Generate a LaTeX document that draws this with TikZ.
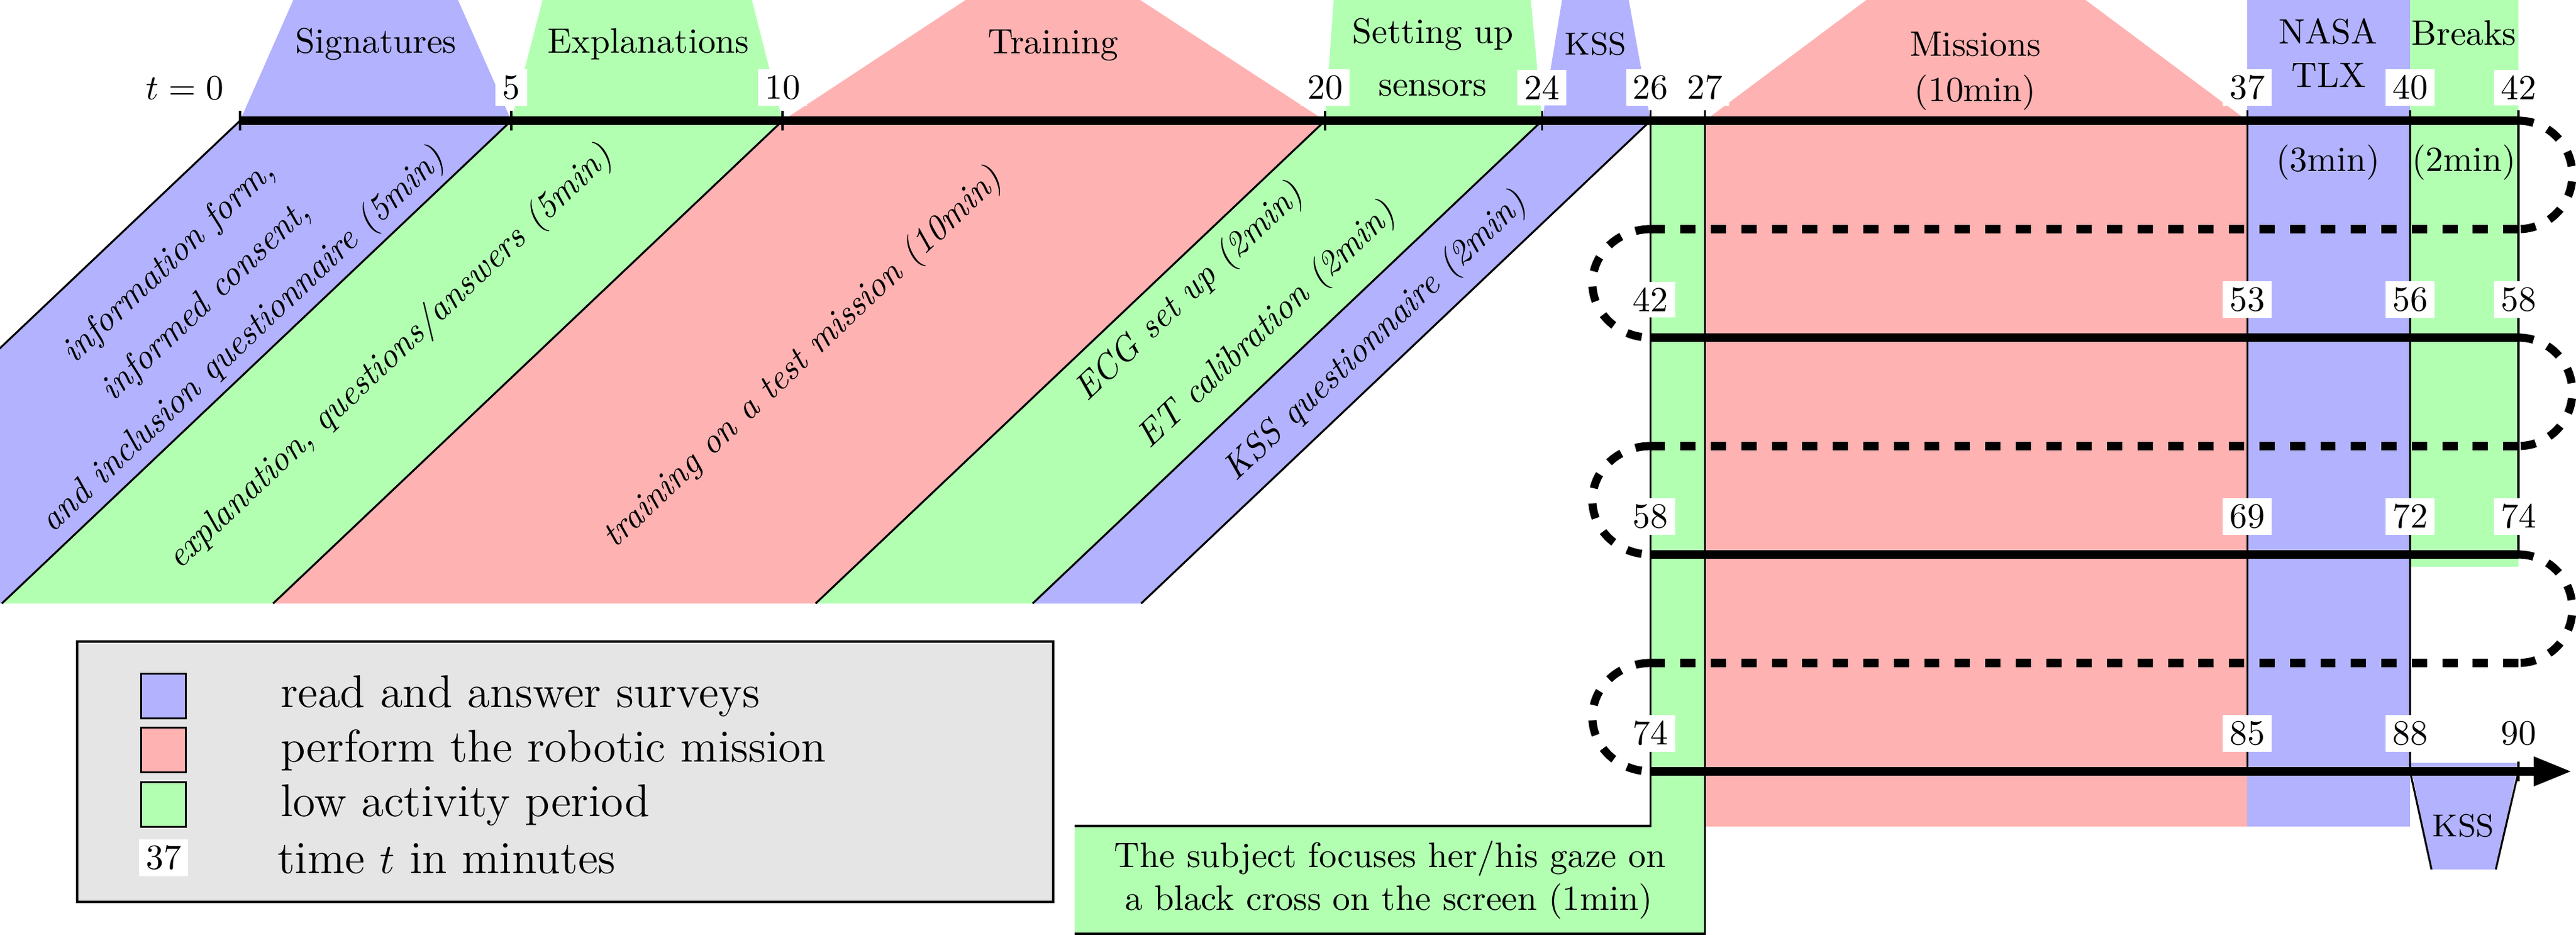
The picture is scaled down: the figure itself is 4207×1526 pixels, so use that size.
\documentclass[tikz,border=0pt]{standalone}
\usetikzlibrary{arrows.meta}
\definecolor{cblue}{rgb}{0.7,0.7,1}
\definecolor{cred}{rgb}{1,0.7,0.7}
\definecolor{cgreen}{rgb}{0.7,1,0.7}
\definecolor{cgray}{rgb}{0.9,0.9,0.9}
\begin{document}
\begin{tikzpicture}[x=0.1736pt,y=-0.1736pt,
  lab/.style={font=\fontsize{10}{12}\selectfont, inner sep=0pt, anchor=base},
  kss/.style={font=\fontsize{9}{11}\selectfont, inner sep=0pt, anchor=base},
  rot/.style={font=\fontsize{10}{15.3}\selectfont\itshape, inner sep=0pt, rotate=43.45, align=center},
  num/.style={font=\fontsize{10}{12}\selectfont, fill=white, inner xsep=1.94pt, inner ysep=1.73pt},
  leg/.style={font=\fontsize{13}{16}\selectfont, inner sep=0pt, anchor=base west},
  thinl/.style={line width=0.55pt},
  tl/.style={line width=2.3pt},
  dloop/.style={line width=2.3pt, dash pattern=on 4.32pt off 4.32pt},
  sq/.style={draw, line width=0.55pt, minimum width=12.8pt, minimum height=12.7pt, inner sep=0pt}
]
\useasboundingbox (0,0) rectangle (4207,1526);
\clip (0,0) rectangle (4207,1526);

% ---------- fills ----------
% slanted bands below the first timeline
\fill[cblue]  (392,197) -- (835,197) -- (3,985) -- (-440,985) -- cycle;
\fill[cgreen] (835,197) -- (1278,197) -- (446,985) -- (3,985) -- cycle;
\fill[cred]   (1278,197) -- (2164,197) -- (1332,985) -- (446,985) -- cycle;
\fill[cgreen] (2164,197) -- (2518.4,197) -- (1686.4,985) -- (1332,985) -- cycle;
\fill[cblue]  (2518.4,197) -- (2695.6,197) -- (1863.6,985) -- (1686.4,985) -- cycle;
% trapezoids above the first timeline
\fill[cblue]  (392,197) -- (479,0) -- (748,0) -- (835,197) -- cycle;
\fill[cgreen] (835,197) -- (886,0) -- (1228,0) -- (1278,197) -- cycle;
\fill[cred]   (1278,197) -- (1577,0) -- (1862,0) -- (2164,197) -- cycle;
\fill[cgreen] (2164,197) -- (2178,0) -- (2500,0) -- (2518.4,197) -- cycle;
\fill[cblue]  (2518.4,197) -- (2551,0) -- (2660,0) -- (2695.6,197) -- cycle;
% vertical strips
\fill[cred]   (2784.2,197) -- (3048,0) -- (3406,0) -- (3670.2,197) -- (3670.2,1349) -- (2784.2,1349) -- cycle;
\fill[cblue]  (3670.2,0) rectangle (3936,1349);
\fill[cgreen] (3936,0) rectangle (4113,925);
\fill[cgreen] (2695.6,197) -- (2784.2,197) -- (2784.2,1524) -- (1755,1524) -- (1755,1348) -- (2695.6,1348) -- cycle;
% final KSS
\fill[cblue]  (3936,1245) -- (4113,1245) -- (4076,1419) -- (3971,1419) -- cycle;

% ---------- thin lines ----------
\draw[thinl] (392,197) -- (-440,985);
\draw[thinl] (835,197) -- (3,985);
\draw[thinl] (1278,197) -- (446,985);
\draw[thinl] (2164,197) -- (1332,985);
\draw[thinl] (2518.4,197) -- (1686.4,985);
\draw[thinl] (2695.6,197) -- (1863.6,985);
\foreach \x in {392,835,1278,2164,2518.4} \draw[thinl] (\x,181) -- (\x,213);
\draw[thinl] (2695.6,180) -- (2695.6,1348) -- (1755,1348);
\draw[thinl] (1755,1524) -- (2784.2,1524) -- (2784.2,180);
\draw[thinl] (3670.2,180) -- (3670.2,1259);
\draw[thinl] (3936,180) -- (3936,1259) -- (3971,1419);
\draw[thinl] (4113,180) -- (4113,905);
\draw[thinl] (4113,1243) -- (4113,1275);
\draw[thinl] (4113,1259) -- (4076,1419);

% ---------- legend ----------
\draw[line width=0.55pt, fill=cgray] (126,1047) rectangle (1720,1472);
\node[sq, fill=cblue]  (lb) at (267,1136) {};
\node[sq, fill=cred]   (lr) at (267,1224) {};
\node[sq, fill=cgreen] (lg) at (267,1313) {};
\node[num] (l37) at (267,1400) {37};
\node[leg] (lbt) at (457,1154) {read and answer surveys};
\node[leg] (lrt) at (457,1243) {perform the robotic mission};
\node[leg] (lgt) at (457,1332) {low activity period};
\node[leg] (ltt) at (452,1425) {time $t$ in minutes};

% ---------- timelines ----------
\coordinate (r1s) at (392,197);    \coordinate (r1e) at (4113,197);
\coordinate (d1e) at (4113,374);   \coordinate (d1s) at (2695.6,374);
\coordinate (r2s) at (2695.6,551); \coordinate (r2e) at (4113,551);
\coordinate (d2e) at (4113,728);   \coordinate (d2s) at (2695.6,728);
\coordinate (r3s) at (2695.6,905); \coordinate (r3e) at (4113,905);
\coordinate (d3e) at (4113,1082);  \coordinate (d3s) at (2695.6,1082);
\coordinate (r4s) at (2695.6,1259);\coordinate (r4e) at (4200,1259);

\draw[tl] (r1s) -- (r1e);
\draw[tl] (r2s) -- (r2e);
\draw[tl] (r3s) -- (r3e);
\draw[tl, -{Triangle[length=10.8pt,width=7.8pt]}] (r4s) -- (r4e);

\draw[dloop] (r1e) .. controls (4161.6,197) and (4201,236.6) .. (4201,285.5)
                   .. controls (4201,334.4) and (4161.6,374) .. (d1e);
\draw[dloop] (d1e) -- (d1s);
\draw[dloop] (d1s) .. controls (2643.1,374) and (2600.6,413.6) .. (2600.6,462.5)
                   .. controls (2600.6,511.4) and (2643.1,551) .. (r2s);
\draw[dloop] (r2e) .. controls (4161.6,551) and (4201,590.6) .. (4201,639.5)
                   .. controls (4201,688.4) and (4161.6,728) .. (d2e);
\draw[dloop] (d2e) -- (d2s);
\draw[dloop] (d2s) .. controls (2643.1,728) and (2600.6,767.6) .. (2600.6,816.5)
                   .. controls (2600.6,865.4) and (2643.1,905) .. (r3s);
\draw[dloop] (r3e) .. controls (4161.6,905) and (4201,944.6) .. (4201,993.5)
                   .. controls (4201,1042.4) and (4161.6,1082) .. (d3e);
\draw[dloop] (d3e) -- (d3s);
\draw[dloop] (d3s) .. controls (2643.1,1082) and (2600.6,1121.6) .. (2600.6,1170.5)
                   .. controls (2600.6,1219.4) and (2643.1,1259) .. (r4s);

% ---------- phase labels ----------
\node[lab] (sig)   at (614,87)  {Signatures};
\node[lab] (expl)  at (1059,87) {Explanations};
\node[lab] (train) at (1720,88) {Training};
\node[lab] (setA)  at (2340,71) {Setting up};
\node[lab] (setB)  at (2340,157) {sensors};
\node[kss] (kssA)  at (2606,90) {KSS};
\node[lab] (misA)  at (3226,92) {Missions};
\node[lab] (misB)  at (3226,166) {(10min)};
\node[lab] (nasA)  at (3802,72) {NASA};
\node[lab] (nasB)  at (3803,143) {TLX};
\node[lab] (nasC)  at (3802,280) {(3min)};
\node[lab] (brkA)  at (4024,74) {Breaks};
\node[lab] (brkB)  at (4024,280) {(2min)};
\node[lab] (t0)    at (302,163) {$t=0$};
\node[kss] (kssB)  at (4023,1365) {KSS};
\node[lab] (boxA)  at (2270,1415) {The subject focuses her/his gaze on};
\node[lab] (boxB)  at (2268,1485) {a black cross on the screen (1min)};

% ---------- rotated descriptions ----------
\node[rot] (dinfo) at (338,493) {information form,\\informed consent,\\and inclusion questionnaire (5min)};
\node[rot] (dexpl) at (638,584) {explanation, questions/answers (5min)};
\node[rot] (dtrn)  at (1312,585) {training on a test mission (10min)};
\node[rot] (decg)  at (1943,478) {ECG set up (2min)};
\node[rot] (det)   at (2070,532) {ET calibration (2min)};
\node[rot] (dkss)  at (2247,550) {KSS questionnaire (2min)};

% ---------- time labels ----------
\node[num] (a5)  at (835,143) {5};
\node[num] (a10) at (1278,143) {10};
\node[num] (a20) at (2164,143) {20};
\node[num] (a24) at (2518.4,143) {24};
\node[num] (a26) at (2695.6,143) {26};
\node[num] (a27) at (2784.2,143) {27};
\node[num] (a37) at (3670.2,143) {37};
\node[num] (a40) at (3936,143) {40};
\node[num] (a42) at (4113,143) {42};
\node[num] (b42) at (2695.6,489) {42};
\node[num] (b53) at (3670.2,489) {53};
\node[num] (b56) at (3936,489) {56};
\node[num] (b58) at (4113,489) {58};
\node[num] (c58) at (2695.6,843) {58};
\node[num] (c69) at (3670.2,843) {69};
\node[num] (c72) at (3936,843) {72};
\node[num] (c74) at (4113,843) {74};
\node[num] (e74) at (2695.6,1197) {74};
\node[num] (e85) at (3670.2,1197) {85};
\node[num] (e88) at (3936,1197) {88};
\node[num] (e90) at (4113,1197) {90};
\end{tikzpicture}
\end{document}
